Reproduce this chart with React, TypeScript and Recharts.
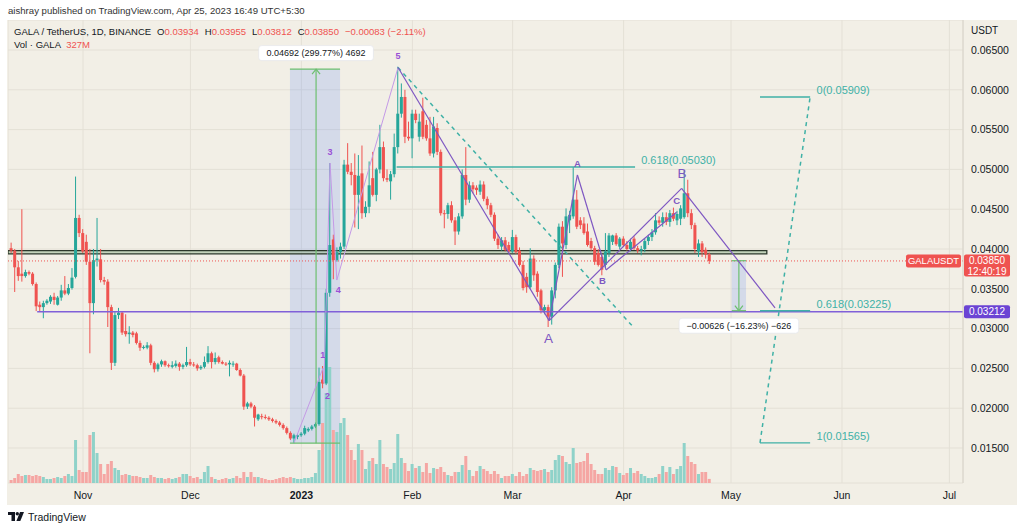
import React from 'react';
import {
  ComposedChart, Bar, XAxis, YAxis, CartesianGrid, ReferenceLine, ReferenceArea, ReferenceDot, Cell,
} from 'recharts';

// ---------- DATA ----------
// day index: 0 = 1 Nov 2022; first candle is 12 Oct 2022
const FIRST_DAY = -20;

// daily candles [open, high, low, close]
const ohlc: [number, number, number, number][] = [
  [0.0401, 0.0408, 0.0395, 0.0398], [0.0398, 0.0400, 0.0346, 0.0377], [0.0377, 0.0385, 0.0360, 0.0366], [0.0369, 0.0450, 0.0359, 0.0366],
  [0.0366, 0.0374, 0.0364, 0.0371], [0.0371, 0.0373, 0.0367, 0.0369], [0.0369, 0.0371, 0.0354, 0.0356], [0.0356, 0.0358, 0.0322, 0.0328],
  [0.0330, 0.0334, 0.0322, 0.0327], [0.0327, 0.0335, 0.0313, 0.0332], [0.0332, 0.0337, 0.0330, 0.0335], [0.0334, 0.0342, 0.0331, 0.0340],
  [0.0340, 0.0345, 0.0330, 0.0336], [0.0330, 0.0341, 0.0329, 0.0339], [0.0339, 0.0355, 0.0335, 0.0348], [0.0348, 0.0366, 0.0342, 0.0344],
  [0.0344, 0.0356, 0.0342, 0.0351], [0.0351, 0.0376, 0.0349, 0.0364], [0.0365, 0.0491, 0.0363, 0.0439], [0.0439, 0.0443, 0.0415, 0.0420],
  // Nov
  [0.0420, 0.0425, 0.0395, 0.0397], [0.0409, 0.0418, 0.0380, 0.0384], [0.0384, 0.0400, 0.0269, 0.0332], [0.0332, 0.0400, 0.0318, 0.0386],
  [0.0386, 0.0439, 0.0378, 0.0388], [0.0387, 0.0400, 0.0358, 0.0361], [0.0361, 0.0365, 0.0355, 0.0359], [0.0359, 0.0362, 0.0302, 0.0327],
  [0.0327, 0.0330, 0.0248, 0.0257], [0.0257, 0.0322, 0.0253, 0.0317], [0.0317, 0.0326, 0.0312, 0.0320], [0.0320, 0.0322, 0.0292, 0.0295],
  [0.0297, 0.0318, 0.0290, 0.0293], [0.0293, 0.0303, 0.0281, 0.0295], [0.0295, 0.0297, 0.0289, 0.0292], [0.0294, 0.0296, 0.0280, 0.0282],
  [0.0282, 0.0285, 0.0272, 0.0276], [0.0276, 0.0279, 0.0274, 0.0277], [0.0276, 0.0283, 0.0274, 0.0279], [0.0279, 0.0281, 0.0254, 0.0257],
  [0.0257, 0.0259, 0.0245, 0.0249], [0.0249, 0.0257, 0.0246, 0.0255], [0.0255, 0.0261, 0.0252, 0.0259], [0.0259, 0.0260, 0.0252, 0.0254],
  [0.0254, 0.0256, 0.0251, 0.0253], [0.0252, 0.0259, 0.0250, 0.0254], [0.0253, 0.0260, 0.0251, 0.0256], [0.0256, 0.0258, 0.0247, 0.0252],
  [0.0252, 0.0256, 0.0249, 0.0254], [0.0254, 0.0277, 0.0252, 0.0258],
  // Dec
  [0.0258, 0.0262, 0.0253, 0.0255], [0.0255, 0.0258, 0.0252, 0.0254], [0.0254, 0.0256, 0.0247, 0.0250], [0.0250, 0.0254, 0.0248, 0.0252],
  [0.0252, 0.0265, 0.0250, 0.0258], [0.0258, 0.0278, 0.0256, 0.0269], [0.0269, 0.0271, 0.0250, 0.0258], [0.0258, 0.0270, 0.0255, 0.0263],
  [0.0264, 0.0266, 0.0256, 0.0258], [0.0258, 0.0260, 0.0255, 0.0256], [0.0256, 0.0258, 0.0253, 0.0255], [0.0255, 0.0260, 0.0240, 0.0257],
  [0.0255, 0.0259, 0.0252, 0.0256], [0.0256, 0.0257, 0.0247, 0.0248], [0.0248, 0.0250, 0.0240, 0.0241], [0.0241, 0.0243, 0.0198, 0.0202],
  [0.0202, 0.0208, 0.0199, 0.0206], [0.0206, 0.0208, 0.0200, 0.0202], [0.0202, 0.0204, 0.0177, 0.0188], [0.0186, 0.0193, 0.0184, 0.0192],
  [0.0190, 0.0193, 0.0186, 0.0189], [0.0189, 0.0192, 0.0186, 0.0188], [0.0188, 0.0190, 0.0184, 0.0186], [0.0186, 0.0188, 0.0182, 0.0184],
  [0.0184, 0.0186, 0.0180, 0.0182], [0.0182, 0.0184, 0.0177, 0.0179], [0.0179, 0.0181, 0.0173, 0.0175], [0.0175, 0.0177, 0.0167, 0.0169],
  [0.0169, 0.0171, 0.0160, 0.0162], [0.0162, 0.0168, 0.0156, 0.0166], [0.0164, 0.0168, 0.0161, 0.0166],
  // Jan 2023
  [0.0166, 0.0170, 0.0164, 0.0168], [0.0168, 0.0178, 0.0166, 0.0175], [0.0172, 0.0176, 0.0170, 0.0174], [0.0174, 0.0179, 0.0172, 0.0177],
  [0.0177, 0.0182, 0.0175, 0.0180], [0.0180, 0.0251, 0.0178, 0.0233], [0.0236, 0.0253, 0.0225, 0.0231], [0.0231, 0.0350, 0.0229, 0.0345],
  [0.0345, 0.0508, 0.0340, 0.0405], [0.0412, 0.0418, 0.0362, 0.0386], [0.0386, 0.0402, 0.0384, 0.0396], [0.0396, 0.0408, 0.0388, 0.0403],
  [0.0403, 0.0512, 0.0400, 0.0506], [0.0506, 0.0533, 0.0494, 0.0497], [0.0497, 0.0508, 0.0480, 0.0493], [0.0493, 0.0520, 0.0427, 0.0468],
  [0.0468, 0.0518, 0.0425, 0.0492], [0.0495, 0.0530, 0.0438, 0.0445], [0.0445, 0.0460, 0.0440, 0.0453], [0.0453, 0.0510, 0.0445, 0.0480],
  [0.0489, 0.0522, 0.0466, 0.0468], [0.0468, 0.0502, 0.0460, 0.0500], [0.0500, 0.0556, 0.0495, 0.0528], [0.0528, 0.0535, 0.0485, 0.0489],
  [0.0489, 0.0500, 0.0484, 0.0487], [0.0485, 0.0498, 0.0462, 0.0494], [0.0494, 0.0545, 0.0490, 0.0528], [0.0528, 0.0629, 0.0520, 0.0570],
  [0.0570, 0.0608, 0.0565, 0.0591], [0.0591, 0.0600, 0.0533, 0.0541], [0.0541, 0.0560, 0.0536, 0.0539],
  // Feb
  [0.0539, 0.0575, 0.0514, 0.0570], [0.0570, 0.0575, 0.0558, 0.0562], [0.0541, 0.0570, 0.0535, 0.0560], [0.0573, 0.0590, 0.0538, 0.0541],
  [0.0556, 0.0562, 0.0536, 0.0539], [0.0539, 0.0566, 0.0517, 0.0520], [0.0520, 0.0566, 0.0515, 0.0554], [0.0552, 0.0558, 0.0518, 0.0522],
  [0.0522, 0.0525, 0.0442, 0.0445], [0.0445, 0.0449, 0.0426, 0.0444], [0.0444, 0.0458, 0.0438, 0.0455], [0.0455, 0.0460, 0.0433, 0.0436],
  [0.0436, 0.0440, 0.0405, 0.0422], [0.0422, 0.0445, 0.0418, 0.0441], [0.0441, 0.0500, 0.0438, 0.0493], [0.0493, 0.0528, 0.0455, 0.0462],
  [0.0462, 0.0485, 0.0458, 0.0480], [0.0480, 0.0484, 0.0470, 0.0475], [0.0477, 0.0480, 0.0468, 0.0474], [0.0472, 0.0486, 0.0468, 0.0481],
  [0.0481, 0.0485, 0.0460, 0.0463], [0.0463, 0.0466, 0.0450, 0.0455], [0.0455, 0.0458, 0.0440, 0.0443], [0.0443, 0.0446, 0.0410, 0.0413],
  [0.0413, 0.0418, 0.0400, 0.0405], [0.0403, 0.0415, 0.0398, 0.0411], [0.0411, 0.0415, 0.0397, 0.0399], [0.0405, 0.0409, 0.0395, 0.0397],
  // Mar
  [0.0397, 0.0424, 0.0395, 0.0415], [0.0415, 0.0418, 0.0394, 0.0396], [0.0398, 0.0402, 0.0378, 0.0380], [0.0380, 0.0385, 0.0348, 0.0351],
  [0.0365, 0.0370, 0.0345, 0.0352], [0.0352, 0.0401, 0.0350, 0.0388], [0.0388, 0.0392, 0.0360, 0.0367], [0.0369, 0.0372, 0.0340, 0.0346],
  [0.0348, 0.0350, 0.0319, 0.0323], [0.0323, 0.0330, 0.0318, 0.0327], [0.0327, 0.0330, 0.0302, 0.0315], [0.0315, 0.0352, 0.0305, 0.0348],
  [0.0348, 0.0383, 0.0338, 0.0380], [0.0380, 0.0432, 0.0376, 0.0428], [0.0428, 0.0435, 0.0365, 0.0407], [0.0405, 0.0451, 0.0400, 0.0441],
  [0.0436, 0.0448, 0.0420, 0.0443], [0.0441, 0.0503, 0.0438, 0.0462], [0.0462, 0.0474, 0.0425, 0.0428], [0.0436, 0.0440, 0.0425, 0.0430],
  [0.0432, 0.0440, 0.0418, 0.0420], [0.0422, 0.0432, 0.0403, 0.0405], [0.0410, 0.0414, 0.0398, 0.0401], [0.0401, 0.0404, 0.0380, 0.0384],
  [0.0395, 0.0400, 0.0378, 0.0380], [0.0390, 0.0393, 0.0367, 0.0374], [0.0380, 0.0420, 0.0376, 0.0397], [0.0395, 0.0420, 0.0390, 0.0417],
  [0.0409, 0.0418, 0.0405, 0.0417], [0.0417, 0.0420, 0.0404, 0.0406], [0.0403, 0.0415, 0.0400, 0.0413],
  // Apr
  [0.0413, 0.0416, 0.0403, 0.0405], [0.0405, 0.0410, 0.0398, 0.0400], [0.0400, 0.0413, 0.0397, 0.0409], [0.0413, 0.0416, 0.0399, 0.0401],
  [0.0401, 0.0404, 0.0395, 0.0398], [0.0398, 0.0404, 0.0392, 0.0400], [0.0400, 0.0413, 0.0396, 0.0410], [0.0410, 0.0418, 0.0405, 0.0415],
  [0.0415, 0.0425, 0.0410, 0.0421], [0.0421, 0.0445, 0.0418, 0.0436], [0.0436, 0.0441, 0.0430, 0.0433], [0.0433, 0.0446, 0.0428, 0.0440],
  [0.0440, 0.0446, 0.0430, 0.0434], [0.0434, 0.0449, 0.0428, 0.0445], [0.0445, 0.0452, 0.0435, 0.0438], [0.0436, 0.0448, 0.0430, 0.0444],
  [0.0438, 0.0455, 0.0430, 0.0451], [0.0440, 0.0499, 0.0438, 0.0470], [0.0470, 0.0487, 0.0440, 0.0445], [0.0445, 0.0450, 0.0425, 0.0430],
  [0.0430, 0.0433, 0.0395, 0.0400], [0.0397, 0.0412, 0.0390, 0.0407], [0.0407, 0.0410, 0.0390, 0.0396], [0.0399, 0.0402, 0.0388, 0.0393],
  [0.03934, 0.03955, 0.03812, 0.0385],
];

// daily volume, millions of GALA
const volumes: number[] = [
  240, 400, 720, 560, 640, 640, 560, 640, 560, 480, 320, 320, 400, 480, 400, 560, 720, 560, 3440, 1040,
  880, 880, 3840, 4080, 2400, 1520, 720, 1520, 1760, 1200, 1040, 640, 720, 640, 560, 560, 480, 400, 400, 640,
  480, 400, 400, 320, 400, 320, 400, 480,
  720, 720, 560, 400, 480, 320, 880, 1360, 480, 320, 240, 320, 400, 320, 400, 560, 400, 880, 480, 880,
  480, 480, 400, 320, 240, 240, 320, 400, 480, 400, 480, 400, 320, 320, 400, 400, 480, 800,
  2640, 4800, 7200, 9280, 4240, 4080, 4800, 5200, 3840,
  2640, 1840, 3120, 2640, 1120, 1760, 2000, 1520, 3440, 1520,
  1280, 1120, 1600, 3920, 2000, 1600, 960, 1520, 1200, 1360,
  880, 1600, 800, 1200, 1120, 1280, 880, 640, 560, 880,
  880, 1440, 2160, 1040, 560, 960, 1360, 1120, 960, 720,
  960, 720, 400, 560, 560, 720, 560, 880, 560, 720,
  1200, 1040, 960, 1040, 1120, 880, 1040, 1840, 2240, 2160,
  1680, 1520, 2800, 1600, 1680, 1760, 2400, 1520, 1040, 720,
  720, 1200, 1040, 1360, 1280, 800, 640, 800, 1200, 800,
  960, 720, 560, 400, 400, 480, 720, 1360, 880, 1280,
  720, 1120, 1360, 3200, 2160, 1680, 1520, 720, 880, 880,
  327,
];

const monthTicks = [0, 30, 61, 92, 120, 151, 181, 212, 242];
const monthLabels = ['Nov', 'Dec', '2023', 'Feb', 'Mar', 'Apr', 'May', 'Jun', 'Jul'];
const priceTicks = [0.015, 0.02, 0.025, 0.03, 0.035, 0.04, 0.045, 0.05, 0.055, 0.06, 0.065];

// drawings (data coordinates: [day, price])
const waveLine: [number, number][] = [[59, 0.0157], [67, 0.0250], [67.3, 0.0232], [69, 0.0508], [70.9, 0.0361], [88, 0.0628]];
const waveLabels: [string, number, number][] = [['1', 67, 0.0267], ['2', 68.3, 0.0215], ['3', 69, 0.0522], ['4', 71.3, 0.0349], ['5', 88, 0.0643]];
const abcLines: [number, number, number, number][] = [
  [88, 0.0628, 130.2, 0.0310], [130.2, 0.0310, 138.1, 0.0493], [138.1, 0.0493, 146.1, 0.03737],
  [130.2, 0.0310, 167.2, 0.04762], [146.1, 0.03737, 165.8, 0.04461], [167.2, 0.04762, 193.3, 0.0326],
];
const abcLabels: [string, number, number, boolean][] = [
  ['A', 130, 0.0287, true], ['A', 138.1, 0.0508, false], ['B', 145.1, 0.0361, false], ['C', 165.8, 0.0461, false], ['B', 167.3, 0.0495, true],
];
const trendDash: [number, number, number, number] = [88, 0.0628, 153.7, 0.0302];
const fib618 = { from: 87.6, to: 154.2, price: 0.0503, label: '0.618(0.05030)', labelDay: 155.9 };
const fibExt = { from: 189.1, to: 203.1, labelDay: 204.9 };
const fibExtLevels: [number, string][] = [[0.05909, '0(0.05909)'], [0.03225, '0.618(0.03225)'], [0.01565, '1(0.01565)']];
const supportZone = { to: 191, low: 0.0394, high: 0.0398 };
const levelLine = { from: -12.8, price: 0.03212, label: '0.03212' };
const measureUp = { from: 57.8, to: 71.8, mid: 65.1, low: 0.0156, high: 0.0626, label: '0.04692 (299.77%) 4692' };
const measureDown = { from: 181.2, to: 185.2, mid: 183.2, low: 0.03225, high: 0.03853, label: '\u22120.00626 (\u221216.23%) \u2212626' };
const lastClose = 0.0385;
const countdown = '12:40:19';

// ---------- STYLE ----------
const X_MIN = -20.95;
const X_MAX = 245.8;
const Y_MIN = 0.010603;
const Y_MAX = 0.068769;
const VOL_MAX = 37040;
const UP = '#26a69a';
const DOWN = '#ef5350';
const VOL_UP = '#8fd2c9';
const VOL_DOWN = '#f5a6a3';
const BG = '#f2efe6';
const GRID = '#e4e0d6';
const TEAL = '#3fb1a6';
const PURPLE = '#7e57c2';
const WAVE = '#c49ae6';
const WAVE_TXT = '#9a4fd6';
const GREEN = '#6cbf6f';
const TXT = '#131722';
const FONT = "'Liberation Sans', Arial, sans-serif";

const data = ohlc.map(([o, h, l, c], i) => ({
  day: FIRST_DAY + i, open: o, high: h, low: l, close: c, range: [l, h], volume: volumes[i],
}));

const Candle = (p: any) => {
  const { x, y, width, height, payload } = p;
  if (!payload || x == null || y == null) return null;
  const top = Math.min(y, y + height);
  const h = Math.abs(height);
  const { open, close, high, low } = payload;
  const color = close >= open ? UP : DOWN;
  const ratio = high > low ? h / (high - low) : 0;
  const yOf = (v: number) => top + (high - v) * ratio;
  const bTop = yOf(Math.max(open, close));
  const bBot = yOf(Math.min(open, close));
  const cx = x + width / 2;
  return (
    <g>
      <line x1={cx} x2={cx} y1={top} y2={top + h} stroke={color} strokeWidth={1} />
      <rect x={x} y={bTop} width={width} height={Math.max(1, bBot - bTop)} fill={color} />
    </g>
  );
};

const MonthTick = (p: any) => {
  const { x, y, payload } = p;
  const i = monthTicks.indexOf(payload.value);
  const label = i >= 0 ? monthLabels[i] : '';
  return (
    <text x={x} y={y + 4} textAnchor="middle" dominantBaseline="central" fontSize={10.5}
      fontWeight={label === '2023' ? 700 : 400} fill={TXT} fontFamily={FONT}>{label}</text>
  );
};

const seg = (key: string, x1: number, y1: number, x2: number, y2: number, stroke: string, width = 1, dash?: string) => (
  <ReferenceLine key={key} segment={[{ x: x1, y: y1 }, { x: x2, y: y2 }]} stroke={stroke} strokeWidth={width}
    strokeDasharray={dash} ifOverflow="visible" />
);

const textMark = (key: string, text: string, x: number, y: number, color: string, size: number, weight = 400, anchor = 'middle', dy = 0) => (
  <ReferenceDot key={key} x={x} y={y} r={0} ifOverflow="visible"
    shape={(p: any) => (
      <text x={p.cx} y={p.cy + dy} textAnchor={anchor} dominantBaseline="central" fontSize={size}
        fontWeight={weight} fill={color} fontFamily={FONT}>{text}</text>
    )} />
);

const boxMark = (key: string, text: string, x: number, y: number, dy: number) => (
  <ReferenceDot key={key} x={x} y={y} r={0} ifOverflow="visible"
    shape={(p: any) => {
      const w = text.length * 4.85 + 8;
      return (
        <g>
          <rect x={p.cx - w / 2} y={p.cy + dy - 7.5} width={w} height={15} rx={3} fill="#ffffff" stroke="#e1e3ea" strokeWidth={0.6} />
          <text x={p.cx} y={p.cy + dy} textAnchor="middle" dominantBaseline="central" fontSize={9} fill={TXT} fontFamily={FONT}>{text}</text>
        </g>
      );
    }} />
);

const arrowHead = (key: string, x: number, y: number, dir: number) => (
  <ReferenceDot key={key} x={x} y={y} r={0} ifOverflow="visible"
    shape={(p: any) => (
      <path d={`M${p.cx - 4},${p.cy + dir * 5} L${p.cx},${p.cy} L${p.cx + 4},${p.cy + dir * 5}`} fill="none" stroke={GREEN} strokeWidth={1.2} />
    )} />
);

const axisTag = (lines: string[], fill: string, withName: boolean) => (p: any) => {
  const vb = p.viewBox || {};
  const right = (vb.x || 0) + (vb.width || 0);
  const cy = vb.y || 0;
  const h = lines.length > 1 ? 22 : 13;
  return (
    <g fontFamily={FONT}>
      {withName && (
        <g>
          <rect x={right - 57} y={cy - 6.5} width={55} height={13} rx={2} fill={fill} />
          <text x={right - 29.5} y={cy} textAnchor="middle" dominantBaseline="central" fontSize={9.5} fill="#fff">GALAUSDT</text>
        </g>
      )}
      <rect x={right + 1} y={cy - 6.5} width={46} height={h} rx={2} fill={fill} />
      {lines.map((t, i) => (
        <text key={i} x={right + 24} y={cy + i * 10.5} textAnchor="middle" dominantBaseline="central" fontSize={10} fill="#fff">{t}</text>
      ))}
    </g>
  );
};

export default function App() {
  return (
    <div style={{ position: 'absolute', left: 0, top: 0, width: 1024, height: 531, background: '#ffffff', fontFamily: FONT, overflow: 'hidden' }}>
      <div style={{ position: 'absolute', left: 8, top: 5, fontSize: 9.6, color: '#333', whiteSpace: 'nowrap' }}>
        aishray published on TradingView.com, Apr 25, 2023 16:49 UTC+5:30
      </div>
      <div style={{ position: 'absolute', left: 7, top: 20, width: 1010, height: 485, background: BG }} />
      <div style={{ position: 'absolute', left: 8, top: 20 }}>
        <ComposedChart width={1009} height={485} data={data} margin={{ top: 0, right: 0, bottom: 0, left: 0 }}>
          <CartesianGrid stroke={GRID} strokeWidth={1} />
          <XAxis dataKey="day" type="number" domain={[X_MIN, X_MAX]} ticks={monthTicks} interval={0}
            tick={<MonthTick />} axisLine={false} tickLine={false} height={22} allowDataOverflow />
          <XAxis xAxisId="v" dataKey="day" type="number" domain={[X_MIN, X_MAX]} hide allowDataOverflow />
          <YAxis orientation="right" type="number" domain={[Y_MIN, Y_MAX]} ticks={priceTicks} interval={0}
            tickFormatter={(v: number) => v.toFixed(5)} width={54} axisLine={{ stroke: '#d8d4ca' }} tickLine={false}
            tick={{ fontSize: 10.5, fill: TXT, fontFamily: FONT }} allowDataOverflow />
          <YAxis yAxisId="v" type="number" hide domain={[0, VOL_MAX]} allowDataOverflow />

          <Bar xAxisId="v" yAxisId="v" dataKey="volume" barSize={3} isAnimationActive={false}>
            {data.map((d, i) => <Cell key={i} fill={d.close >= d.open ? VOL_UP : VOL_DOWN} />)}
          </Bar>

          <ReferenceArea x1={measureUp.from} x2={measureUp.to} y1={measureUp.low} y2={measureUp.high}
            fill="#2962ff" fillOpacity={0.15} stroke="none" ifOverflow="visible" />
          <ReferenceArea x1={measureDown.from} x2={measureDown.to} y1={measureDown.low} y2={measureDown.high}
            fill="#2962ff" fillOpacity={0.15} stroke="none" ifOverflow="visible" />
          <ReferenceArea x1={X_MIN} x2={supportZone.to} y1={supportZone.low} y2={supportZone.high}
            fill="#9dbb97" fillOpacity={0.55} stroke="#2b382b" strokeWidth={1.3} ifOverflow="visible" />

          <Bar dataKey="range" barSize={3} isAnimationActive={false} shape={(p: any) => <Candle {...p} />} />

          <ReferenceLine y={lastClose} stroke={DOWN} strokeDasharray="1 2" strokeWidth={1} ifOverflow="visible"
            label={axisTag([lastClose.toFixed(5), countdown], DOWN, true)} />
          <ReferenceLine segment={[{ x: levelLine.from, y: levelLine.price }, { x: X_MAX, y: levelLine.price }]}
            stroke="#8060d8" strokeWidth={1.4} ifOverflow="visible" label={axisTag([levelLine.label], '#6b44d4', false)} />

          {/* measurement: rally */}
          {seg('mu-t', measureUp.from, measureUp.high, measureUp.to, measureUp.high, GREEN, 1.2)}
          {seg('mu-b', measureUp.from, measureUp.low, measureUp.to, measureUp.low, GREEN, 1.2)}
          {seg('mu-v', measureUp.mid, measureUp.low, measureUp.mid, measureUp.high, GREEN, 1.2)}
          {arrowHead('mu-a', measureUp.mid, measureUp.high, 1)}
          {boxMark('mu-l', measureUp.label, measureUp.mid, measureUp.high, -16)}

          {/* measurement: projected drop */}
          {seg('md-t', measureDown.from, measureDown.high, measureDown.to, measureDown.high, GREEN, 1.2)}
          {seg('md-b', measureDown.from, measureDown.low, measureDown.to, measureDown.low, GREEN, 1.2)}
          {seg('md-v', measureDown.mid, measureDown.low, measureDown.mid, measureDown.high, GREEN, 1.2)}
          {arrowHead('md-a', measureDown.mid, measureDown.low, -1)}

          {/* elliott impulse */}
          {waveLine.slice(1).map((pt, i) => seg(`w${i}`, waveLine[i][0], waveLine[i][1], pt[0], pt[1], WAVE, 1))}
          {waveLabels.map(([t, x, y], i) => textMark(`wl${i}`, t, x, y, WAVE_TXT, 9, 700))}

          {/* trend line + fib */}
          {seg('trend', trendDash[0], trendDash[1], trendDash[2], trendDash[3], TEAL, 1.5, '4 4')}
          {seg('f618', fib618.from, fib618.price, fib618.to, fib618.price, TEAL, 1.3)}
          {textMark('f618l', fib618.label, fib618.labelDay, fib618.price, TEAL, 11, 400, 'start', -7)}

          {/* corrective ABC */}
          {abcLines.map(([a, b, c, d], i) => seg(`abc${i}`, a, b, c, d, PURPLE, 1.2))}
          {abcLabels.map(([t, x, y, big], i) => textMark(`abl${i}`, t, x, y, PURPLE, big ? 13.5 : 9.5, big ? 400 : 700))}

          {/* fib extension on the right */}
          {seg('fx', fibExt.from, fibExtLevels[2][0], fibExt.to, fibExtLevels[0][0], TEAL, 1.5, '4 4')}
          {fibExtLevels.map(([p, t], i) => seg(`fe${i}`, fibExt.from, p, fibExt.to, p, TEAL, 1.4))}
          {fibExtLevels.map(([p, t], i) => textMark(`fel${i}`, t, fibExt.labelDay, p, TEAL, 11, 400, 'start', -7))}

          {boxMark('md-l', measureDown.label, measureDown.mid, measureDown.low, 15)}
        </ComposedChart>
      </div>

      {/* legend */}
      <div style={{ position: 'absolute', left: 14, top: 26, fontSize: 9.5, color: TXT, whiteSpace: 'nowrap', display: 'flex', gap: 6 }}>
        <span>GALA / TetherUS, 1D, BINANCE</span>
        <span>O<span style={{ color: DOWN }}>0.03934</span></span>
        <span>H<span style={{ color: DOWN }}>0.03955</span></span>
        <span>L<span style={{ color: DOWN }}>0.03812</span></span>
        <span>C<span style={{ color: DOWN }}>0.03850</span></span>
        <span style={{ color: DOWN }}>{'\u22120.00083 (\u22122.11%)'}</span>
      </div>
      <div style={{ position: 'absolute', left: 14, top: 39, fontSize: 9.5, color: TXT, whiteSpace: 'nowrap' }}>
        Vol · GALA <span style={{ color: DOWN, marginLeft: 3 }}>327M</span>
      </div>
      <div style={{ position: 'absolute', left: 971, top: 25, fontSize: 10, color: TXT }}>USDT</div>

      {/* footer */}
      <div style={{ position: 'absolute', left: 8, top: 511, display: 'flex', alignItems: 'center', gap: 4 }}>
        <svg width={16} height={10} viewBox="0 0 16 10">
          <rect x={0} y={0} width={7} height={3} fill={TXT} />
          <rect x={3.5} y={0} width={3.5} height={9} fill={TXT} />
          <circle cx={9.3} cy={1.7} r={1.7} fill={TXT} />
          <polygon points="12,0 16,0 12.3,9 8.4,9" fill={TXT} />
        </svg>
        <span style={{ fontSize: 10.5, color: TXT }}>TradingView</span>
      </div>
    </div>
  );
}
